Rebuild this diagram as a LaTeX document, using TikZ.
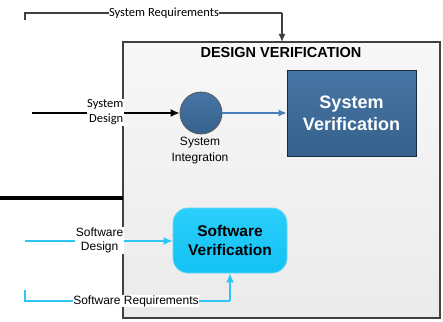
\documentclass[tikz,border=0pt]{standalone}
\usepackage{fontspec}
\setmainfont{Liberation Sans}
\newfontfamily\labelfont{Carlito}
\usetikzlibrary{arrows.meta,shapes.geometric}
\definecolor{frame}{HTML}{404040}
\definecolor{sysblue}{HTML}{3D6E9F}
\definecolor{sysblueline}{HTML}{4A7DB5}
\definecolor{swcyan}{HTML}{2EC6F2}
\definecolor{swtop}{HTML}{2BCFFB}
\definecolor{swbottom}{HTML}{12C1F3}
\definecolor{swedge}{HTML}{6AD8F5}
\tikzset{
  x=1pt, y=-1pt,
  lbl/.style={fill=white, inner sep=0.5pt, align=center, font=\fontsize{12}{14.5}\selectfont},
  clbl/.style={fill=white, inner sep=0.5pt, align=right, font=\labelfont\fontsize{12.5}{15}\selectfont},
  reqline/.style={draw=frame, line width=1.2pt},
  blackarrow/.style={draw=black, line width=1.6pt, -{Latex[length=9pt,width=8pt]}},
  greyarrow/.style={draw=frame, line width=1.2pt, -{Latex[length=8pt,width=7pt]}},
  bluearrow/.style={draw=sysblueline, line width=1.3pt, -{Latex[length=8pt,width=7pt]}},
  cyanarrow/.style={draw=swcyan, line width=1.3pt, -{Latex[length=9pt,width=8pt]}},
}
\begin{document}
\begin{tikzpicture}
\useasboundingbox (0,0) rectangle (443,321);

% outer verification frame
\shade[top color=white!97!black, bottom color=white!92!black]
  (123,42) rectangle (440,318);
\draw[frame, line width=2pt] (123,42) rectangle (440,318);
\coordinate (frametop) at (282,42);
\node[font=\bfseries\fontsize{14.5}{16}\selectfont] (title) at (281,53) {DESIGN VERIFICATION};

% thick divider on the left
\coordinate (divA) at (0,198);
\coordinate (divB) at (123,198);
\draw[black, line width=4pt] (divA) -- (divB);

% system integration and verification
\node[circle, minimum size=42pt, inner sep=0pt, draw=black!65, line width=0.8pt,
      top color=sysblue!95!white, bottom color=sysblue!88!black] (integ) at (201,113) {};
\node[align=center, font=\fontsize{12}{16}\selectfont] (integlab) at (200,151) {System\\Integration};
\node[draw=black!60!sysblue, line width=0.8pt, top color=sysblue!95!white, bottom color=sysblue!88!black,
      minimum width=129pt, minimum height=86pt, inner sep=0pt, align=center, text=white,
      font=\bfseries\fontsize{18}{22}\selectfont] (sysver) at (351.5,113) {System\\Verification};

% software verification
\node[draw=swedge, line width=0.8pt, rounded corners=15pt,
      top color=swtop, bottom color=swbottom,
      minimum width=114pt, minimum height=65pt, inner sep=0pt, align=center,
      font=\bfseries\fontsize{15.5}{19}\selectfont] (swver) at (230,240.5) {Software\\Verification};

% system requirements feed
\coordinate (sreqA) at (25,20);
\coordinate (sreqB) at (25,13);
\draw[reqline] (sreqA) -- (sreqB) -- (282,13);
\draw[greyarrow] (282,13) -- (frametop);
\node[clbl] (sreqlab) at (164,13) {System Requirements};

% system design input
\coordinate (sdin) at (32,113);
\draw[blackarrow] (sdin) -- (integ);
\node[clbl, anchor=east] (sdlab) at (124,112.5) {System\\Design};

% integration to verification
\draw[bluearrow] (integ) -- (sysver);

% software design input
\coordinate (swin) at (25,241);
\draw[cyanarrow] (swin) -- (swver.west |- swin);
\node[lbl, anchor=east] (swlab) at (124,240.5) {Software\\Design};

% software requirements feed
\coordinate (swreqA) at (25,290);
\coordinate (swreqB) at (25,301);
\draw[swcyan, line width=1.3pt] (swreqA) -- (swreqB) -- (230,301);
\draw[cyanarrow] (230,301) -- (swver.south);
\node[lbl] (swreqlab) at (136,301) {Software Requirements};
\end{tikzpicture}
\end{document}
